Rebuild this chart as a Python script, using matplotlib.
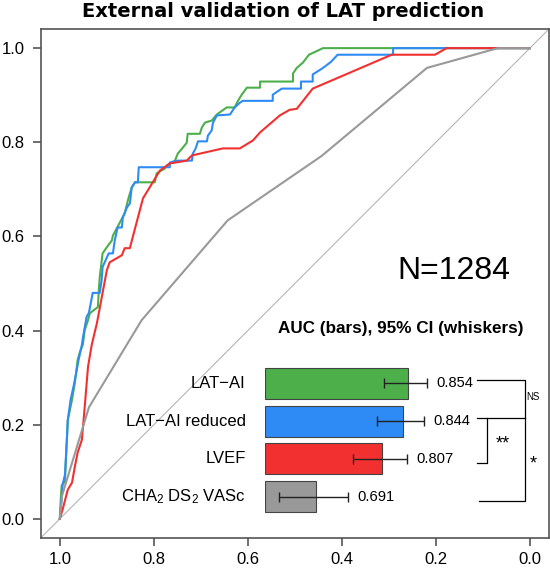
import matplotlib
matplotlib.use("Agg")
import matplotlib.pyplot as plt

plt.rcParams['font.family'] = ['Liberation Sans', 'DejaVu Sans']
plt.rcParams['mathtext.fontset'] = 'custom'
plt.rcParams['mathtext.rm'] = 'Liberation Sans'
plt.rcParams['mathtext.default'] = 'regular'

# ROC curves (specificity, sensitivity)
lat_spec = [1.0, 0.998, 0.996, 0.989, 0.987, 0.985, 0.983, 0.974, 0.968, 0.962, 0.957, 0.951,
            0.947, 0.940, 0.936, 0.919, 0.917, 0.915, 0.909, 0.900, 0.889, 0.887, 0.872, 0.862,
            0.855, 0.851, 0.847, 0.840, 0.798, 0.794, 0.777, 0.772, 0.755, 0.749, 0.738, 0.730,
            0.728, 0.702, 0.698, 0.691, 0.677, 0.666, 0.645, 0.628, 0.621, 0.613, 0.602, 0.574,
            0.574, 0.504, 0.504, 0.496, 0.483, 0.470, 0.440, 0.0]
lat_sens = [0.0, 0.041, 0.071, 0.079, 0.126, 0.168, 0.210, 0.253, 0.289, 0.338, 0.355, 0.370,
            0.401, 0.422, 0.437, 0.450, 0.486, 0.514, 0.564, 0.577, 0.592, 0.602, 0.630, 0.649,
            0.677, 0.691, 0.704, 0.715, 0.715, 0.734, 0.744, 0.751, 0.761, 0.776, 0.789, 0.799,
            0.818, 0.818, 0.831, 0.842, 0.846, 0.859, 0.874, 0.874, 0.888, 0.901, 0.916, 0.916,
            0.929, 0.929, 0.946, 0.958, 0.969, 0.986, 1.0, 1.0]

reduced_spec = [1.0, 0.996, 0.994, 0.989, 0.985, 0.983, 0.977, 0.970, 0.964, 0.960, 0.953, 0.951,
                0.943, 0.938, 0.930, 0.915, 0.911, 0.909, 0.896, 0.887, 0.883, 0.877, 0.868, 0.866,
                0.857, 0.851, 0.847, 0.840, 0.834, 0.832, 0.766, 0.766, 0.749, 0.719, 0.717, 0.711,
                0.706, 0.687, 0.685, 0.677, 0.674, 0.666, 0.638, 0.628, 0.617, 0.611, 0.547, 0.547,
                0.528, 0.487, 0.487, 0.462, 0.462, 0.440, 0.423, 0.409, 0.291, 0.291, 0.0]
reduced_sens = [0.0, 0.047, 0.073, 0.094, 0.168, 0.210, 0.253, 0.285, 0.316, 0.338, 0.370, 0.384,
                0.429, 0.438, 0.480, 0.480, 0.507, 0.535, 0.564, 0.564, 0.592, 0.619, 0.619, 0.640,
                0.662, 0.670, 0.704, 0.715, 0.715, 0.747, 0.747, 0.757, 0.761, 0.761, 0.776, 0.787,
                0.802, 0.802, 0.814, 0.825, 0.842, 0.857, 0.859, 0.874, 0.884, 0.888, 0.888, 0.901,
                0.914, 0.914, 0.929, 0.929, 0.944, 0.958, 0.971, 0.986, 0.986, 1.0, 1.0]

lvef_spec = [1.0, 0.994, 0.983, 0.974, 0.968, 0.962, 0.953, 0.947, 0.940, 0.932, 0.921, 0.900,
             0.894, 0.868, 0.862, 0.851, 0.845, 0.823, 0.787, 0.766, 0.730, 0.719, 0.653, 0.617,
             0.589, 0.574, 0.532, 0.511, 0.496, 0.462, 0.294, 0.202, 0.177, 0.0]
lvef_sens = [0.0, 0.020, 0.062, 0.077, 0.111, 0.141, 0.168, 0.238, 0.323, 0.370, 0.416, 0.528,
             0.545, 0.560, 0.575, 0.575, 0.598, 0.681, 0.740, 0.755, 0.761, 0.772, 0.787, 0.787,
             0.804, 0.821, 0.857, 0.869, 0.871, 0.914, 0.986, 0.986, 1.0, 1.0]

cha_spec = [1.0, 0.995, 0.938, 0.826, 0.643, 0.443, 0.219, 0.068, 0.0]
cha_sens = [0.0, 0.05, 0.237, 0.422, 0.634, 0.771, 0.958, 1.0, 1.0]

# AUC bars with 95% CI
models = ["LAT\u2212AI", "LAT\u2212AI reduced", "LVEF", "CHA$_2$ DS$_2$ VASc"]
auc = [0.854, 0.844, 0.807, 0.691]
ci_low = [0.811, 0.799, 0.756, 0.625]
ci_high = [0.887, 0.882, 0.852, 0.747]
colors = ["#4DAF4A", "#2E8BF5", "#F23030", "#999999"]

fig = plt.figure(figsize=(5.5, 5.7), dpi=100)
ax = fig.add_axes([41 / 550, 32.3 / 570, 507.7 / 550, 508.4 / 570])

ax.axline((1, 0), (0, 1), color="#b5b5b5", lw=0.8, zorder=1)
ax.plot(lat_spec, lat_sens, color=colors[0], lw=1.5, zorder=2)
ax.plot(reduced_spec, reduced_sens, color=colors[1], lw=1.5, zorder=3)
ax.plot(lvef_spec, lvef_sens, color=colors[2], lw=1.5, zorder=4)
ax.plot(cha_spec, cha_sens, color=colors[3], lw=1.5, zorder=5)

ax.set_xlim(1.04, -0.04)
ax.set_ylim(-0.04, 1.04)
ticks = [1.0, 0.8, 0.6, 0.4, 0.2, 0.0]
ax.set_xticks(ticks)
ax.set_yticks(ticks)
ax.set_xticklabels([f"{t:.1f}" for t in ticks])
ax.set_yticklabels([f"{t:.1f}" for t in ticks])
for s in ax.spines.values():
    s.set_color("#555555")
    s.set_linewidth(1.2)
ax.tick_params(length=6, width=1.2, color="#555555", labelsize=12, labelcolor="black")
ax.tick_params(axis="x", pad=4)
ax.tick_params(axis="y", pad=6)

fig.text(0.514, 0.979, "External validation of LAT prediction", ha="center", va="center",
         fontsize=14, fontweight="bold", family="DejaVu Sans")

ax.text(0.162, 0.527, "N=1284", ha="center", va="center", fontsize=23)

# inset bar chart
ax2 = fig.add_axes([265 / 550, 54.65 / 570, 225.6 / 550, 150.7 / 570])
ax2.patch.set_visible(False)
ax2.axis("off")
ypos = [3, 2, 1, 0]
ax2.barh(ypos, [a - 0.6 for a in auc], left=0.6, height=0.82, color=colors,
         edgecolor="#444444", linewidth=0.8, zorder=2)
xerr = [[a - l for a, l in zip(auc, ci_low)], [h - a for a, h in zip(auc, ci_high)]]
ax2.errorbar(auc, ypos, xerr=xerr, fmt="none", ecolor="#222222", elinewidth=1.0,
             capsize=3.6, capthick=1.0, zorder=3, clip_on=False)
ax2.set_xlim(0.6, 1.0)
ax2.set_ylim(-0.5, 3.5)
for y, h, a in zip(ypos, ci_high, auc):
    ax2.annotate(f"{a:.3f}", (h, y), xytext=(6.5, 0), textcoords="offset points",
                 ha="left", va="center", fontsize=10.6, annotation_clip=False)
for y, m in zip(ypos, models):
    ax2.text(0.566, y, m, ha="right", va="center", fontsize=12, clip_on=False)

ax2.text(0.841, 4.45, "AUC (bars), 95% CI (whiskers)", ha="center", va="center",
         fontsize=12.3, fontweight="bold", clip_on=False)

# significance brackets
bk = dict(color="black", lw=0.9, clip_on=False)
ax2.plot([0.976, 1.061, 1.061, 0.976], [3.093, 3.093, 2.084, 2.084], **bk)
ax2.plot([0.994, 0.994, 0.976], [2.084, 0.889, 0.889], **bk)
ax2.plot([1.061, 1.061, 0.979], [2.084, -0.119, -0.119], **bk)
ax2.text(1.064, 2.64, "NS", ha="left", va="center", fontsize=7)
ax2.text(1.022, 1.40, "**", ha="center", va="center", fontsize=13)
ax2.text(1.075, 0.86, "*", ha="center", va="center", fontsize=13)

fig.savefig("out.png", dpi=100)
